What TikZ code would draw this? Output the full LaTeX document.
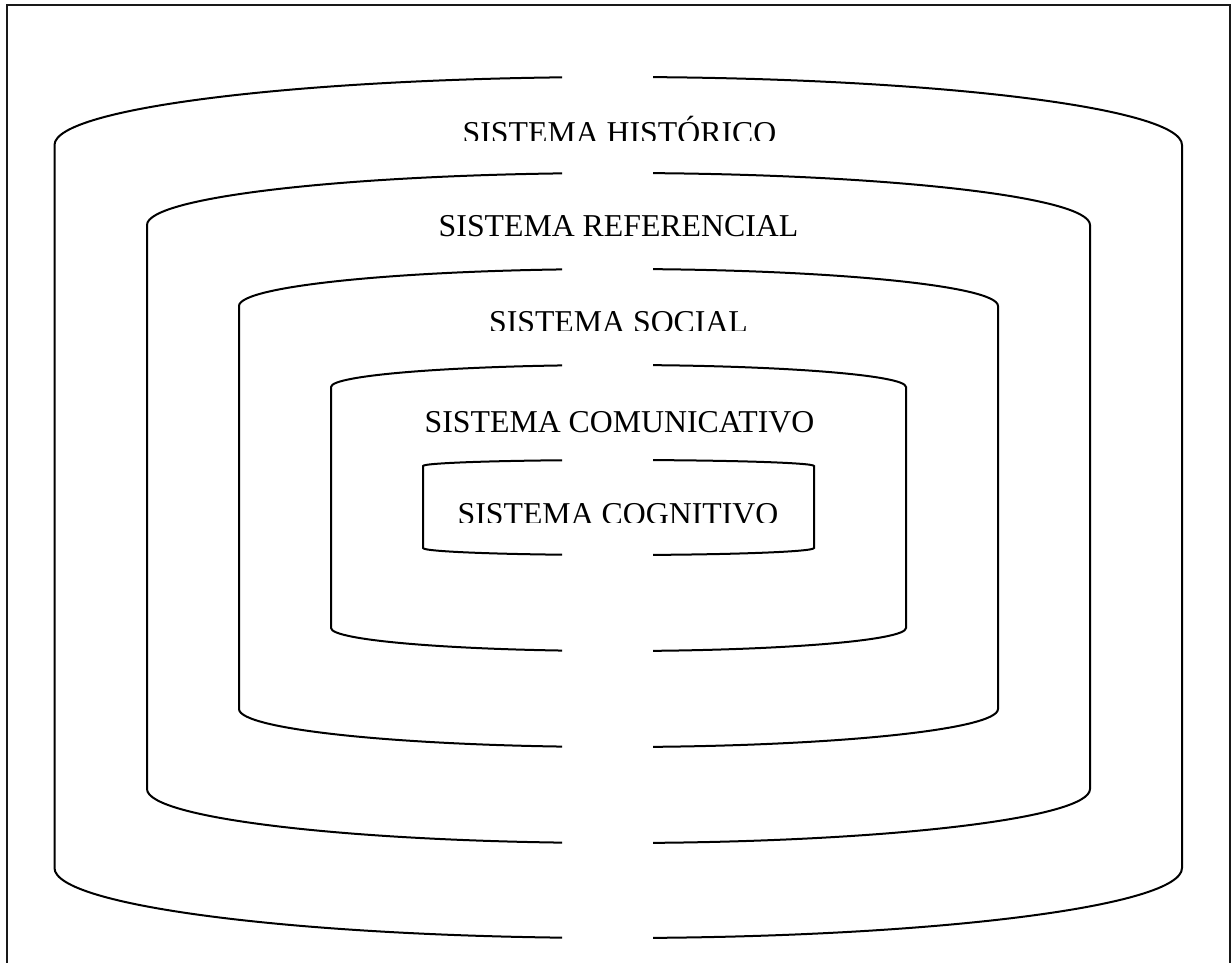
\documentclass[tikz,border=0pt]{standalone}
\usepackage{fontspec}
\setmainfont{Liberation Serif}
\newfontfamily\lblfont{Liberation Serif}
\tikzset{
  frameline/.style={line width=2pt, draw=black!90},
  shell/.style={line width=2pt, draw=black},
  lbl/.style={font=\lblfont\fontsize{31.8}{36}\selectfont, anchor=base, inner sep=0pt}
}
\begin{document}
\begin{tikzpicture}[x=1pt,y=1pt]
  \useasboundingbox (0,0) rectangle (1231,-963);
  % page frame (bottom edge lies below the page)
  \draw[frameline] (6.5,-990) -- (6.5,-5.5) -- (1229.5,-5.5) -- (1229.5,-990);

  % nested systems, each opened by a gap at the top and bottom
  \begin{scope}
    \clip (0,10) rectangle (562,-975) (653,10) rectangle (1240,-975);
    \foreach \L/\R/\T/\TC/\BC/\B in {
      54.5/1182/77/145/868/938,
      147/1090/173/225/789/843,
      239/998/269/306/709/747,
      331/906/365/387/628/651,
      423/814/460/466/548/555} {
      \pgfmathsetmacro\ra{(\R-\L)/2}
      \pgfmathsetmacro\bt{\TC-\T}
      \pgfmathsetmacro\bb{\B-\BC}
      \draw[shell] (\L,-\TC)
        arc[start angle=180, end angle=0, x radius=\ra pt, y radius=\bt pt]
        -- (\R,-\BC)
        arc[start angle=0, end angle=-180, x radius=\ra pt, y radius=\bb pt]
        -- cycle;
    }
  \end{scope}

  % labels (some are cut at the bottom by their text frames)
  \begin{scope}
    \clip (0,0) rectangle (1231,-140.5);
    \node[lbl] (hist) at (619.5,-143) {SISTEMA HISTÓRICO};
  \end{scope}
  \node[lbl] (ref) at (618.5,-236) {SISTEMA REFERENCIAL};
  \begin{scope}
    \clip (0,0) rectangle (1231,-330);
    \node[lbl] (soc) at (618.5,-332) {SISTEMA SOCIAL};
  \end{scope}
  \node[lbl] (com) at (619.5,-432) {SISTEMA COMUNICATIVO};
  \begin{scope}
    \clip (0,0) rectangle (1231,-522);
    \node[lbl] (cog) at (618,-524) {SISTEMA COGNITIVO};
  \end{scope}
\end{tikzpicture}
\end{document}
